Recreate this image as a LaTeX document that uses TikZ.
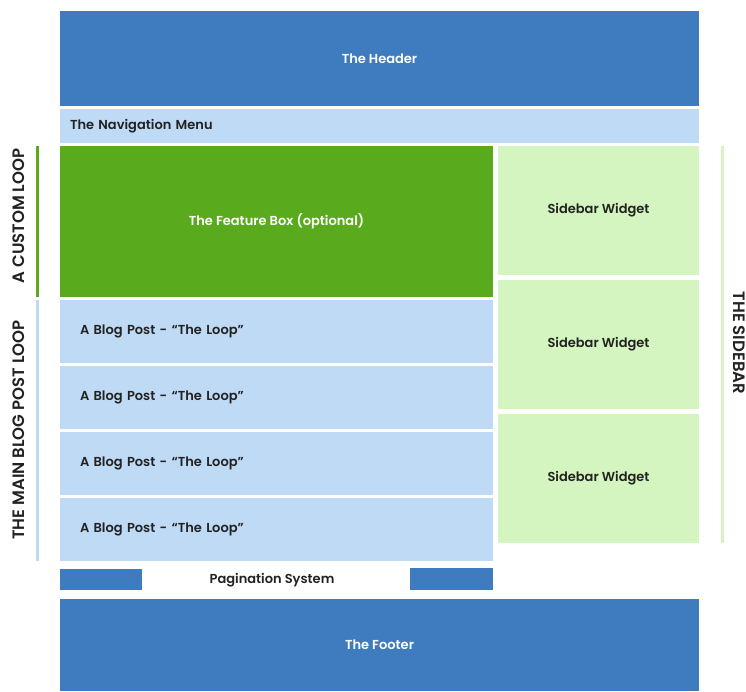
\documentclass[tikz,border=0pt]{standalone}
\usepackage{fontspec}
\setmainfont{Poppins SemiBold}
\usetikzlibrary{positioning}

\definecolor{headblue}{HTML}{3F7BBF}
\definecolor{navblue}{HTML}{BFDAF5}
\definecolor{featgreen}{HTML}{5AAA1E}
\definecolor{widgetgreen}{HTML}{D5F5C0}
\definecolor{textgray}{HTML}{222222}

\begin{document}
\begin{tikzpicture}[x=1pt, y=-1pt, node distance=3pt, font=\fontsize{13}{15}\selectfont]
\tikzstyle{block} = [rectangle, inner sep=0pt, outer sep=0pt, anchor=north west, text centered]
\tikzstyle{dark} = [block, fill=headblue, text=white]
\tikzstyle{post} = [block, fill=navblue, text=textgray, minimum width=433pt, minimum height=63pt,
                    text width=393pt, inner xsep=20pt, align=left]
\tikzstyle{widget} = [block, fill=widgetgreen, text=textgray, minimum width=201pt, minimum height=129pt]
\tikzstyle{sidelabel} = [text=textgray, font=\fontsize{16.5}{18}\selectfont]
\tikzstyle{sideline} = [line width=3pt]

\useasboundingbox (0,0) rectangle (746,691);

\node (header) [dark, minimum width=639pt, minimum height=95pt] at (60,11) {The Header};
\node (nav) [block, fill=navblue, text=textgray, minimum width=639pt, minimum height=34pt,
             text width=619pt, inner xsep=10pt, align=left, below=3pt of header.south west, anchor=north west]
             {The Navigation Menu};
\node (feature) [block, fill=featgreen, text=white, minimum width=433pt, minimum height=151pt] at (60,146)
             {The Feature Box (optional)};

\node (post1) [post, below=3pt of feature.south west, anchor=north west] {A Blog Post - “The Loop”};
\node (post2) [post, below=3pt of post1.south west, anchor=north west] {A Blog Post - “The Loop”};
\node (post3) [post, below=3pt of post2.south west, anchor=north west] {A Blog Post - “The Loop”};
\node (post4) [post, below=3pt of post3.south west, anchor=north west] {A Blog Post - “The Loop”};

\node (widget1) [widget] at (498,146) {Sidebar Widget};
\node (widget2) [widget, below=5pt of widget1.south west, anchor=north west] {Sidebar Widget};
\node (widget3) [widget, below=5pt of widget2.south west, anchor=north west] {Sidebar Widget};

\node (prev) [block, fill=headblue, minimum width=82pt, minimum height=21pt] at (60,569) {};
\node (next) [block, fill=headblue, minimum width=83pt, minimum height=22pt] at (410,568) {};
\node (pages) [text=textgray] at (272,580) {Pagination System};

\node (footer) [dark, minimum width=639pt, minimum height=92pt] at (60,599) {The Footer};

% loop markers on the left, sidebar marker on the right
\draw [sideline, featgreen] (37,146) -- (37,297);
\draw [sideline, navblue] (37,300) -- (37,561);
\draw [sideline, widgetgreen] (722.5,146) -- (722.5,543);

\node (custom) [sidelabel, rotate=90] at (19,216) {A CUSTOM LOOP};
\node (mainloop) [sidelabel, rotate=90] at (19,430) {THE MAIN BLOG POST LOOP};
\node (sidebar) [sidelabel, rotate=-90] at (739,343) {THE SIDEBAR};
\end{tikzpicture}
\end{document}
